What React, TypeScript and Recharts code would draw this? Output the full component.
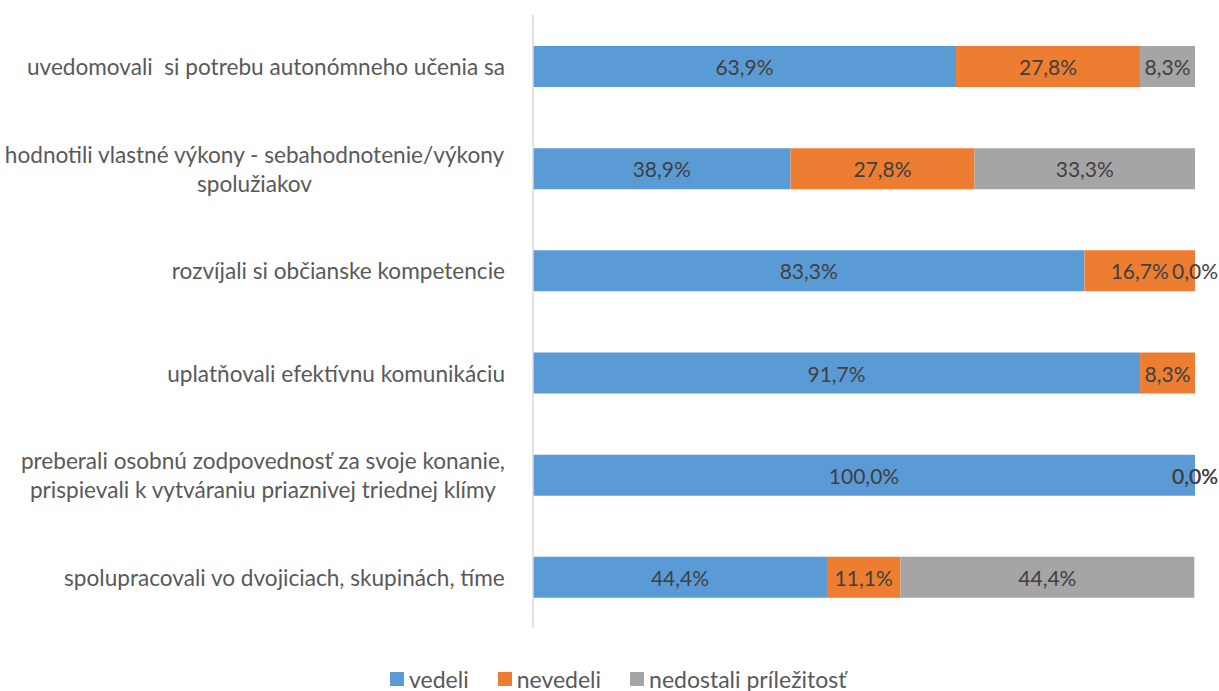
import { BarChart, Bar, XAxis, YAxis, LabelList, Legend } from "recharts";

// categories top to bottom, "\n" marks the line break used in the original
const categories = [
  "uvedomovali  si potrebu autonómneho učenia sa",
  "hodnotili vlastné výkony - sebahodnotenie/výkony\nspolužiakov",
  "rozvíjali si občianske kompetencie",
  "uplatňovali efektívnu komunikáciu",
  "preberali osobnú zodpovednosť za svoje konanie,\nprispievali k vytváraniu priaznivej triednej klímy",
  "spolupracovali vo dvojiciach, skupinách, tíme",
];
const vedeli = [63.9, 38.9, 83.3, 91.7, 100.0, 44.4];
const nevedeli = [27.8, 27.8, 16.7, 8.3, 0.0, 11.1];
const nedostali = [8.3, 33.3, 0.0, null, 0.0, 44.4];

const seriesNames = ["vedeli", "nevedeli", "nedostali príležitosť"];
const seriesKeys = ["vedeli", "nevedeli", "nedostali"];
const seriesColors = ["#5B9BD5", "#ED7D31", "#A5A5A5"];
const seriesValues = [vedeli, nevedeli, nedostali];

const data = categories.map((name, i) => ({
  name,
  vedeli: vedeli[i],
  nevedeli: nevedeli[i],
  nedostali: nedostali[i],
}));

const FONT = "Lato, 'Noto Sans', sans-serif";
const TICK_SIZE = 22.6;
const LABEL_SIZE = 21;

let ctx: CanvasRenderingContext2D | null = null;
function textWidth(s: string) {
  if (!ctx) ctx = document.createElement("canvas").getContext("2d");
  if (!ctx) return s.length * 10;
  ctx.font = `${TICK_SIZE}px Lato`;
  return ctx.measureText(s).width;
}

function CategoryTick(props: any) {
  const { x, y, payload } = props;
  const lines: string[] = String(payload.value).split("\n");
  const w = Math.max(...lines.map(textWidth));
  const cx = x - 28 - w / 2;
  const lh = 29;
  const top = y - ((lines.length - 1) * lh) / 2;
  return (
    <text
      x={cx}
      y={top}
      textAnchor="middle"
      dominantBaseline="central"
      fill="#595959"
      fontSize={TICK_SIZE}
      fontFamily={FONT}
      xmlSpace="preserve"
      style={{ whiteSpace: "pre" }}
    >
      {lines.map((l, i) => (
        <tspan key={i} x={cx} y={top + i * lh}>
          {l}
        </tspan>
      ))}
    </text>
  );
}

const fmt = (v: number) => `${v.toFixed(1).replace(".", ",")}%`;

// row index of a bar entry, used as the label "value"
const rowOf = (row: any) => categories.indexOf(row.name);

// own label centred in the segment; zero segments that follow get their
// label at the end of this one (Recharts skips empty stacked rects)
function makeLabel(k: number) {
  return (props: any) => {
    const vb = props.viewBox ?? props;
    const { x, y, width, height } = vb;
    const idx = Number(props.value);
    const v = seriesValues[k][idx];
    if (!v) return null;
    const cy = y + height / 2;
    const out = [
      <text
        key="own"
        x={x + width / 2}
        y={cy}
        textAnchor="middle"
        dominantBaseline="central"
        fill="#404040"
        fontSize={LABEL_SIZE}
        fontFamily={FONT}
      >
        {fmt(v)}
      </text>,
    ];
    for (let j = k + 1; j < seriesValues.length && seriesValues[j][idx] === 0; j++) {
      out.push(
        <text
          key={`z${j}`}
          x={x + width}
          y={cy}
          textAnchor="middle"
          dominantBaseline="central"
          fill="#404040"
          fontSize={LABEL_SIZE}
          fontFamily={FONT}
        >
          {fmt(0)}
        </text>
      );
    }
    return <g>{out}</g>;
  };
}

function LegendRow() {
  return (
    <div
      style={{
        display: "flex",
        alignItems: "center",
        height: 24,
        paddingLeft: 390,
        fontFamily: FONT,
        fontSize: 23,
        color: "#595959",
      }}
    >
      {seriesNames.map((n, i) => (
        <div key={n} style={{ display: "flex", alignItems: "center", marginRight: 29 }}>
          <span
            style={{
              display: "inline-block",
              width: 14,
              height: 14,
              background: seriesColors[i],
              marginRight: 5,
            }}
          />
          <span>{n}</span>
        </div>
      ))}
    </div>
  );
}

export default function App() {
  return (
    <div style={{ position: "absolute", left: 0, top: 0, background: "#fff" }}>
      <BarChart
        width={1219}
        height={691}
        data={data}
        layout="vertical"
        barSize={41}
        margin={{ top: 15, right: 24, bottom: 39, left: 0 }}
      >
        <XAxis type="number" domain={[0, 100]} hide />
        <YAxis
          type="category"
          dataKey="name"
          width={533}
          axisLine={{ stroke: "#D9D9D9", strokeWidth: 1.5 }}
          tickLine={false}
          tickSize={0}
          tickMargin={0}
          tick={<CategoryTick />}
          interval={0}
        />
        <Legend
          verticalAlign="bottom"
          content={<LegendRow />}
          wrapperStyle={{ left: 0, width: 1219, bottom: 0, height: 24 }}
        />
        {seriesKeys.map((key, k) => (
          <Bar
            key={key}
            dataKey={key}
            name={seriesNames[k]}
            stackId="a"
            fill={seriesColors[k]}
            isAnimationActive={false}
          >
            <LabelList dataKey={rowOf} content={makeLabel(k)} />
          </Bar>
        ))}
      </BarChart>
    </div>
  );
}
